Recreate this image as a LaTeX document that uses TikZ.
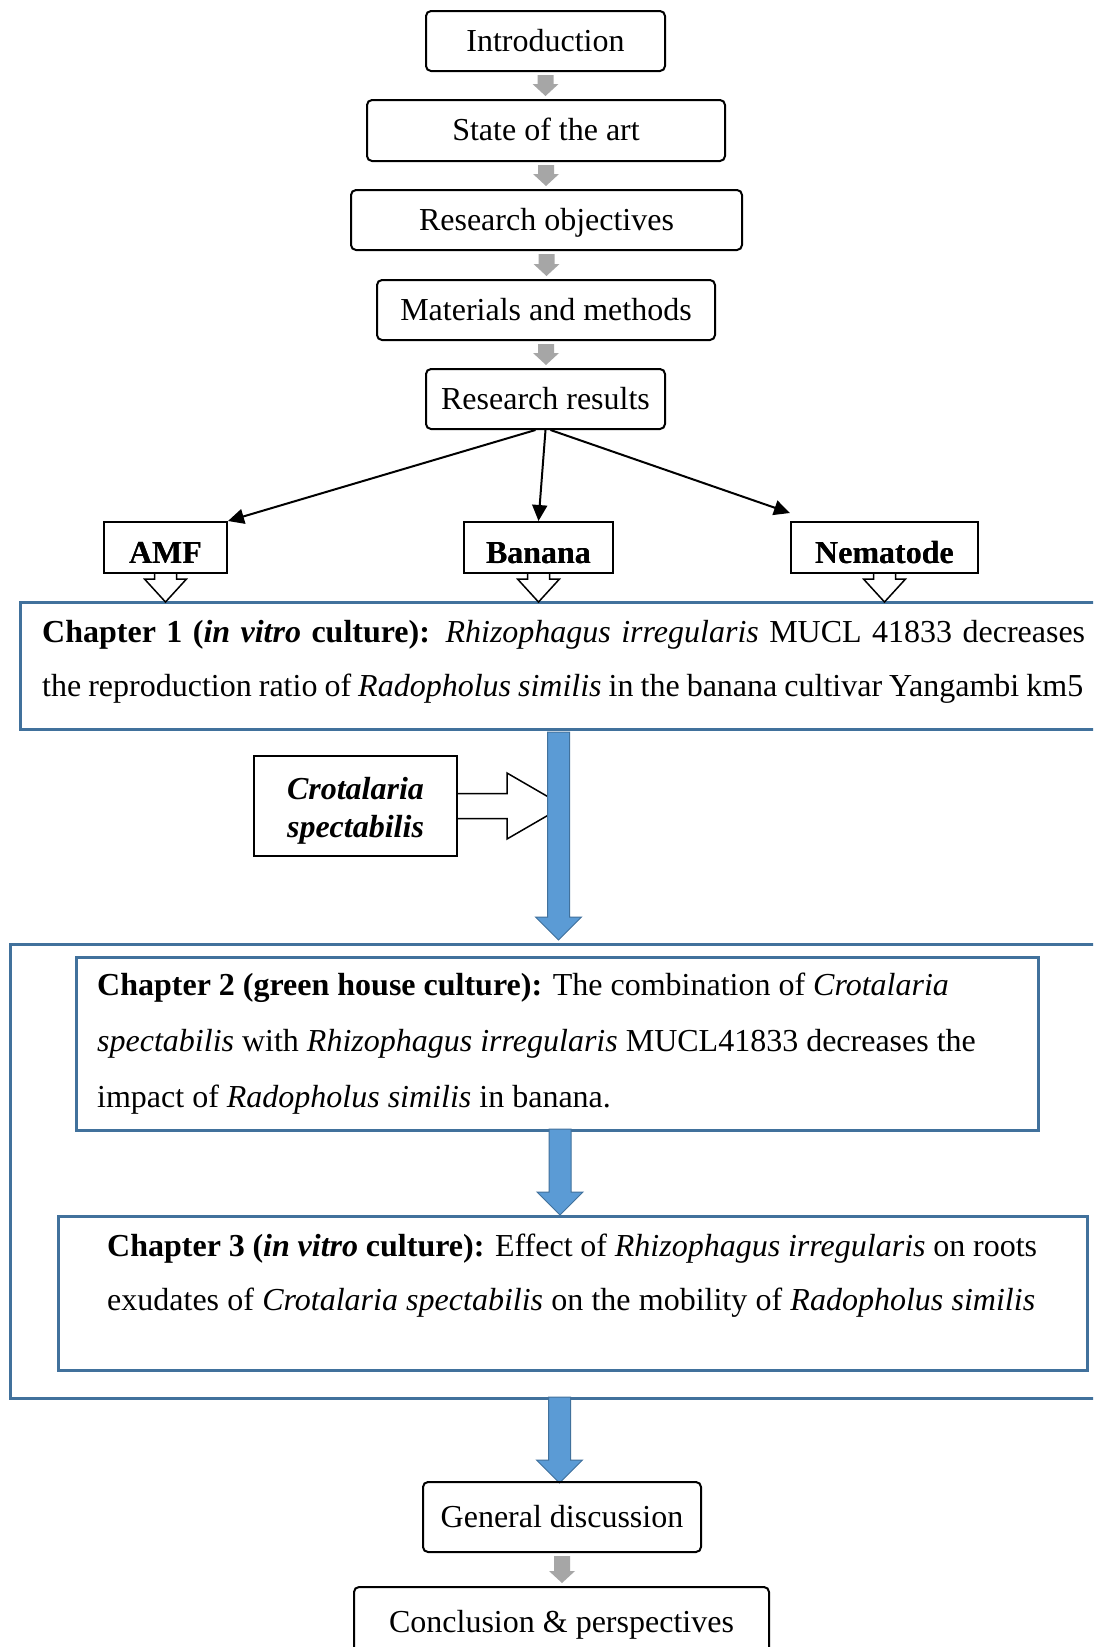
\documentclass[tikz,border=0pt]{standalone}
\usepackage{fontspec}
\setmainfont{Liberation Serif}
\usetikzlibrary{arrows.meta,calc}
\definecolor{boxblue}{HTML}{41719C}
\definecolor{fillblue}{HTML}{5B9BD5}
\definecolor{arrgray}{HTML}{A6A6A6}
\newcommand{\garrow}[2]{%
  \fill[arrgray] let \p1=(#1.south), \p2=(#2.north) in
   (\x1-8pt,\y1-3pt) -- (\x1+8pt,\y1-3pt) -- (\x1+8pt,\y2+15pt) -- (\x1+13pt,\y2+15pt)
   -- (\x1,\y2+3pt) -- (\x1-13pt,\y2+15pt) -- (\x1-8pt,\y2+15pt) -- cycle;}
\newcommand{\wdarrow}[1]{%
  \filldraw[fill=white, draw=black, line width=1.5pt, line join=miter] let \p1=(#1.south) in
   (\x1-11pt,\y1) -- (\x1-11pt,\y1-5pt) -- (\x1-21pt,\y1-5pt) -- (\x1,\y1-28pt)
   -- (\x1+21pt,\y1-5pt) -- (\x1+11pt,\y1-5pt) -- (\x1+11pt,\y1);}
\newcommand{\blarrow}[4]{%
  \filldraw[fill=fillblue, draw=boxblue, line width=1pt] (#1-11,#2) -- (#1+11,#2) -- (#1+11,#3)
   -- (#1+23,#3) -- (#1,#4) -- (#1-23,#3) -- (#1-11,#3) -- cycle;}
\begin{document}
\begin{tikzpicture}[x=1pt, y=-1pt,
  every node/.style={font=\fontsize{32}{38}\selectfont},
  rbox/.style={draw, line width=2pt, rounded corners=5pt, text height=26pt, text depth=6pt, inner sep=0pt, align=center},
  lbox/.style={draw, line width=2pt, minimum height=51, text height=31pt, text depth=0pt, inner sep=0pt, font=\fontsize{32}{38}\selectfont\bfseries},
  bbox/.style={draw=boxblue, line width=2.5pt, inner sep=0pt, anchor=north west},
  txt/.style={anchor=base west, inner sep=0pt},
  crotbox/.style={draw, line width=2pt, minimum width=203, minimum height=100, inner sep=0pt, align=center,
    font=\fontsize{32}{38}\selectfont\bfseries\itshape},
  blk/.style={line width=2pt, -{Triangle[length=16pt,width=15pt]}}]
\useasboundingbox (0,0) rectangle (1093,1647);
\clip (0,0) rectangle (1093,1647);
\fill[white] (0,0) rectangle (1093,1647);

% top flow
\node[rbox, minimum width=239, minimum height=60] (intro) at (545.5,41) {Introduction};
\node[rbox, minimum width=358, minimum height=61] (state) at (546,130.5) {State of the art};
\node[rbox, minimum width=391, minimum height=60] (obj) at (546.5,220) {Research objectives};
\node[rbox, minimum width=338, minimum height=60] (mat) at (546,310) {Materials and methods};
\node[rbox, minimum width=239, minimum height=60] (res) at (545.5,399) {Research results};
\garrow{intro}{state}
\garrow{state}{obj}
\garrow{obj}{mat}
\garrow{mat}{res}

% chapter 1 box
\node[bbox, minimum width=1091, minimum height=127] (ch1) at (19,601) {};
\node[txt] (c1a) at (42,642) {\makebox[1043pt][s]{\textbf{Chapter 1 (\textit{in vitro} culture):} \textit{Rhizophagus irregularis} MUCL 41833 decreases}};
\node[txt] (c1b) at (42,696) {\makebox[1041pt][s]{the reproduction ratio of \textit{Radopholus similis} in the banana cultivar Yangambi km5}};

% label boxes
\node[lbox, minimum width=123] (amf) at (165.5,547.5) {AMF};
\node[lbox, minimum width=149] (ban) at (538.5,547.5) {Banana};
\node[lbox, minimum width=187] (nem) at (884.5,547.5) {Nematode};
\wdarrow{amf}
\wdarrow{ban}
\wdarrow{nem}
\node[lbox, minimum width=123] at (amf) {AMF};
\node[lbox, minimum width=149] at (ban) {Banana};
\node[lbox, minimum width=187] at (nem) {Nematode};

\draw[blk] ($(res.south)+(-10,0)$) -- (amf.north east);
\draw[blk] (res.south) -- (ban.north);
\draw[blk] ($(res.south)+(5,0)$) -- ($(nem.north west)+(0,-8)$);

% crotalaria
\node[crotbox] (crot) at (355.5,806) {};
\filldraw[fill=white, draw=black, line width=1.5pt, line join=miter] let \p1=(crot.east) in
  (\x1,\y1+12.5pt) -- (\x1+49pt,\y1+12.5pt) -- (\x1+49pt,\y1+33pt) -- (\x1+106pt,\y1)
  -- (\x1+49pt,\y1-33pt) -- (\x1+49pt,\y1-12.5pt) -- (\x1,\y1-12.5pt);
\node[crotbox] (crottxt) at (crot) {\raisebox{-5pt}[\height][\depth]{\parbox{200pt}{\centering Crotalaria\\spectabilis}}};

\blarrow{558.5}{732}{917}{940}

% outer box with chapters 2 and 3
\node[bbox, minimum width=1101, minimum height=454] (outer) at (9,943) {};
\node[bbox, minimum width=962, minimum height=173] (ch2) at (75,956) {};
\node[txt] (c2a) at (97,995) {\textbf{Chapter 2 (green house culture):} The combination of \textit{Crotalaria}};
\node[txt] (c2b) at (97,1051) {\textit{spectabilis} with \textit{Rhizophagus irregularis} MUCL41833 decreases the};
\node[txt] (c2c) at (97,1107) {impact of \textit{Radopholus similis} in banana.};

\blarrow{560}{1129}{1192}{1215}

\node[bbox, minimum width=1029, minimum height=154] (ch3) at (57,1215) {};
\node[txt] (c3a) at (107,1256) {\makebox[930pt][s]{\textbf{Chapter 3 (\textit{in vitro} culture):} Effect of \textit{Rhizophagus irregularis} on roots}};
\node[txt] (c3b) at (107,1310) {\makebox[928pt][s]{exudates of \textit{Crotalaria spectabilis} on the mobility of \textit{Radopholus similis}}};

\blarrow{559.5}{1397}{1460}{1483}

% bottom
\node[rbox, minimum width=278, minimum height=70] (gen) at (562,1517) {General discussion};
\node[rbox, minimum width=415, minimum height=70] (concl) at (561.5,1622) {Conclusion \& perspectives};
\garrow{gen}{concl}
\end{tikzpicture}
\end{document}
